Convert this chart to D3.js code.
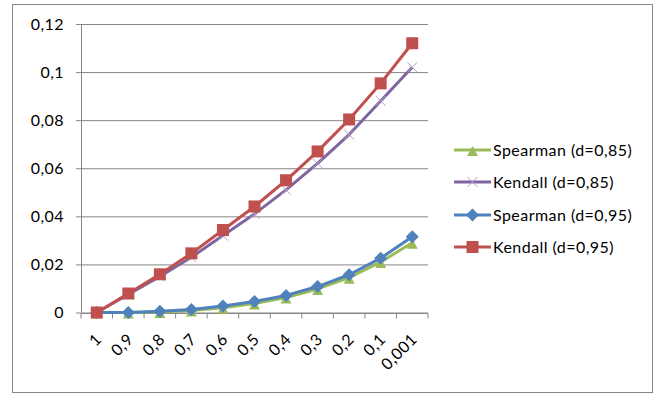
<!DOCTYPE html>
<html>
<head>
<meta charset="utf-8">
<script src="https://cdn.jsdelivr.net/npm/d3@7"></script>
<style>
  body { margin: 0; background: #fff; }
  svg { display: block; font-family: Lato, "Open Sans", sans-serif; }
  text { letter-spacing: 0.45px; }
</style>
</head>
<body>
<svg id="chart" width="660" height="394"></svg>
<script>
const categories = ["1", "0,9", "0,8", "0,7", "0,6", "0,5", "0,4", "0,3", "0,2", "0,1", "0,001"];
const spearman085 = [0, 0, 0.0002, 0.0008, 0.002, 0.0037, 0.0062, 0.0098, 0.0145, 0.021, 0.029];
const kendall085  = [0, 0.0075, 0.015, 0.023, 0.032, 0.041, 0.051, 0.062, 0.074, 0.088, 0.102];
const spearman095 = [0, 0, 0.0005, 0.0012, 0.0027, 0.0046, 0.0071, 0.0108, 0.0157, 0.0226, 0.0315];
const kendall095  = [0, 0.0079, 0.0159, 0.0246, 0.0343, 0.0441, 0.055, 0.067, 0.0803, 0.0953, 0.112];
const yTicks = [0, 0.02, 0.04, 0.06, 0.08, 0.1, 0.12];
const yTickLabels = ["0", "0,02", "0,04", "0,06", "0,08", "0,1", "0,12"];

const series = [
  { name: "Spearman (d=0,85)", values: spearman085, color: "#9BBB59", marker: "triangle" },
  { name: "Kendall (d=0,85)",  values: kendall085,  color: "#8064A2", marker: "cross" },
  { name: "Spearman (d=0,95)", values: spearman095, color: "#4F81BD", marker: "diamond" },
  { name: "Kendall (d=0,95)",  values: kendall095,  color: "#C0504D", marker: "square" }
];

const svg = d3.select("#chart");
const plot = { left: 81, right: 428, top: 24, bottom: 312.5 };
const gridColor = "#868686";
const fontSize = 16;

// outer frame
svg.append("rect")
  .attr("x", 12.5).attr("y", 4.5).attr("width", 640).attr("height", 388)
  .attr("fill", "none").attr("stroke", gridColor).attr("stroke-width", 1);

const x = d3.scaleBand().domain(categories).range([plot.left, plot.right]);
const y = d3.scaleLinear().domain([0, 0.12]).range([plot.bottom, plot.top]);

// horizontal gridlines with left tick stubs
const yAxis = d3.axisLeft(y).tickValues(yTicks)
  .tickSize(-(plot.right - plot.left)).tickSizeOuter(0)
  .tickFormat((d, i) => yTickLabels[i]);
const gy = svg.append("g").attr("transform", `translate(${plot.left},0)`).call(yAxis);
gy.select(".domain").remove();
gy.selectAll(".tick line").attr("stroke", gridColor).attr("x1", -5);
gy.selectAll(".tick text")
  .attr("x", -17).attr("dy", "0.34em")
  .attr("font-size", fontSize).attr("fill", "#000")
  .attr("font-family", "Lato, 'Open Sans', sans-serif");

// vertical axis line
svg.append("line")
  .attr("x1", plot.left + 0.5).attr("x2", plot.left + 0.5)
  .attr("y1", y(0.12)).attr("y2", plot.bottom)
  .attr("stroke", gridColor);

// category axis with ticks between categories
const gx = svg.append("g").attr("transform", `translate(0,${Math.round(y(0)) + 0.5})`);
gx.append("line").attr("x1", plot.left).attr("x2", plot.right).attr("stroke", gridColor);
const bounds = d3.range(categories.length + 1).map(i => plot.left + i * x.step());
gx.selectAll("line.tick").data(bounds).join("line")
  .attr("class", "tick")
  .attr("x1", d => d).attr("x2", d => d)
  .attr("y1", 0).attr("y2", 5)
  .attr("stroke", gridColor);
gx.selectAll("text").data(categories).join("text")
  .attr("transform", d => `translate(${x(d) + x.bandwidth() / 2 + 2},${23}) rotate(-45)`)
  .attr("text-anchor", "end")
  .attr("dy", "0.35em")
  .attr("font-size", fontSize)
  .text(d => d);

const cx = (d, i) => x(categories[i]) + x.bandwidth() / 2;
const line = d3.line().x((d, i) => cx(d, i)).y(d => y(d));

function drawMarker(g, s, px, py) {
  if (s.marker === "square") {
    g.append("rect").attr("x", px - 6).attr("y", py - 6)
      .attr("width", 12).attr("height", 12).attr("fill", s.color);
  } else if (s.marker === "diamond") {
    g.append("path").attr("d", `M${px},${py - 6.5}L${px + 6.5},${py}L${px},${py + 6.5}L${px - 6.5},${py}Z`)
      .attr("fill", s.color);
  } else if (s.marker === "triangle") {
    g.append("path").attr("d", `M${px},${py - 4}L${px + 5.5},${py + 6}L${px - 5.5},${py + 6}Z`)
      .attr("fill", s.color);
  } else if (s.marker === "cross") {
    g.append("path").attr("d", `M${px - 5},${py - 5}L${px + 5},${py + 5}M${px - 5},${py + 5}L${px + 5},${py - 5}`)
      .attr("stroke", "#B3A2C7").attr("stroke-width", 1).attr("fill", "none");
  }
}

series.forEach(s => {
  const g = svg.append("g");
  g.append("path").datum(s.values)
    .attr("d", line)
    .attr("fill", "none")
    .attr("stroke", s.color)
    .attr("stroke-width", 3)
    .attr("stroke-linejoin", "round");
  s.values.forEach((v, i) => drawMarker(g, s, cx(v, i), y(v)));
});

// legend
const legendY = [150, 182, 215, 247];
series.forEach((s, i) => {
  const g = svg.append("g");
  const ly = legendY[i];
  g.append("line").attr("x1", 454).attr("x2", 491).attr("y1", ly).attr("y2", ly)
    .attr("stroke", s.color).attr("stroke-width", 3);
  drawMarker(g, s, 472.5, ly);
  g.append("text").attr("x", 493).attr("y", ly).attr("dy", "0.35em")
    .attr("font-size", fontSize).attr("fill", "#000").text(s.name);
});
</script>
</body>
</html>
